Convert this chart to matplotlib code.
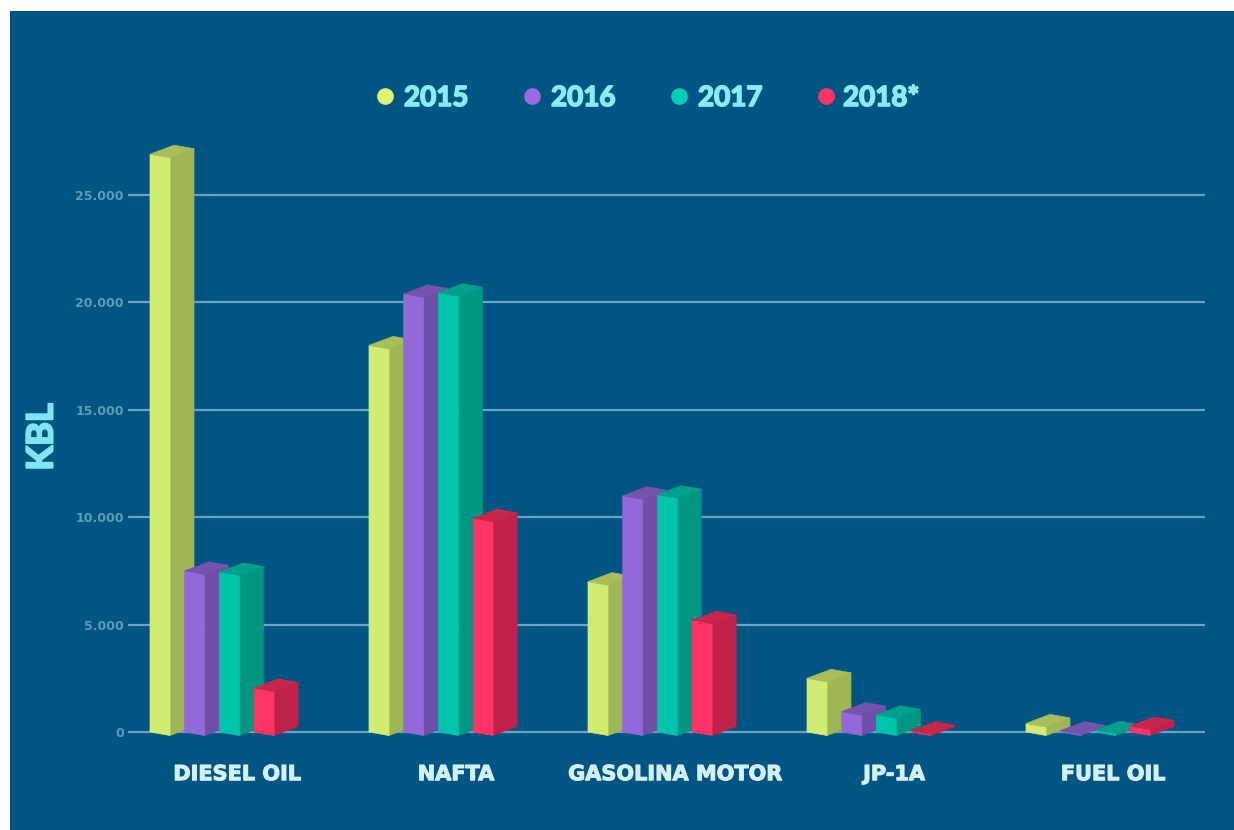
import matplotlib
matplotlib.use("Agg")
import matplotlib.pyplot as plt
from matplotlib.patches import Polygon, Rectangle
from matplotlib.lines import Line2D
import matplotlib.patheffects as pe

categories = ["DIESEL OIL", "NAFTA", "GASOLINA MOTOR", "JP-1A", "FUEL OIL"]
years = ["2015", "2016", "2017", "2018*"]
v2015 = [26900, 18000, 7000, 2500, 400]
v2016 = [7500, 20400, 11000, 950, 60]
v2017 = [7450, 20450, 11050, 800, 80]
v2018 = [2050, 9950, 5200, 60, 280]
series = [v2015, v2016, v2017, v2018]
yticks = [0, 5000, 10000, 15000, 20000, 25000]
ytick_labels = ["0", "5.000", "10.000", "15.000", "20.000", "25.000"]

front_colors = ["#D0EC72", "#9368D8", "#00C5AA", "#FF3366"]
side_colors = ["#A0B554", "#6F4FA8", "#009682", "#BF2248"]
top_colors = ["#A9BD59", "#7653AE", "#00A08A", "#C9264E"]
legend_colors = ["#DDF56E", "#9B6CE0", "#00CDB2", "#FF3366"]

plt.rcParams['font.family'] = ['Lato', 'DejaVu Sans']

W, H = 1234, 830
fig = plt.figure(figsize=(W / 100, H / 100), dpi=100, facecolor="white")
bg = Rectangle((10 / W, 0), 1 - 10 / W, (H - 11) / H, transform=fig.transFigure,
               facecolor="#005583", edgecolor="none", zorder=-5)
fig.patches.append(bg)

ax_left, ax_right = 128, 1205
ax_top, ax_bottom = 130, 760
ax = fig.add_axes([ax_left / W, (H - ax_bottom) / H, (ax_right - ax_left) / W,
                   (ax_bottom - ax_top) / H])
ax.set_zorder(2)
ax.set_facecolor("none")
ppv = 537 / 25000.0  # pixels per value unit
y0_pix = 732
ylo = -(ax_bottom - y0_pix) / ppv
yhi = ylo + (ax_bottom - ax_top) / ppv
ax.set_ylim(ylo, yhi)
grp = 219.0
x0_pix = 237
ax.set_xlim((ax_left - x0_pix) / grp, (ax_right - x0_pix) / grp)

fw = 20 / grp
step = 34.7 / grp
off0 = (150 - 237) / grp
dx = 24 / grp
dy = 9 / ppv
sk = 3.5 / ppv

z = 3
for i in range(len(categories)):
    for j, vals in enumerate(series):
        v = vals[i]
        xl = i + off0 + j * step
        xr = xl + fw
        front = [(xl, 0), (xr, -sk), (xr, v - sk), (xl, v)]
        side = [(xr, -sk), (xr + dx, -sk + dy), (xr + dx, v - sk + dy), (xr, v - sk)]
        top = [(xl, v), (xr, v - sk), (xr + dx, v - sk + dy), (xl + dx, v + dy)]
        ax.add_patch(Polygon(side, closed=True, facecolor=side_colors[j],
                             edgecolor=side_colors[j], lw=0.5, zorder=z))
        ax.add_patch(Polygon(front, closed=True, facecolor=front_colors[j],
                             edgecolor=front_colors[j], lw=0.5, zorder=z + 0.1))
        ax.add_patch(Polygon(top, closed=True, facecolor=top_colors[j],
                             edgecolor=top_colors[j], lw=0.5, zorder=z + 0.2))
        z += 1

ax.set_yticks(yticks)
ax.set_yticklabels(ytick_labels)
ax.grid(axis='y', color='#6AA3C6', lw=1.6, zorder=1)
ax.set_axisbelow(True)
for s in ax.spines.values():
    s.set_visible(False)
ax.tick_params(axis='y', length=0, pad=3, labelsize=9, labelcolor='#5F9CC0')
for t in ax.get_yticklabels():
    t.set_fontweight('bold')
    t.set_family(['DejaVu Sans'])
ax.set_xticks(range(len(categories)))
ax.set_xticklabels(categories)
ax.tick_params(axis='x', length=0, pad=3, labelsize=15, labelcolor='#D3F1FA')
for t in ax.get_xticklabels():
    t.set_fontweight('bold')
    t.set_family(['DejaVu Sans'])
    t.set_path_effects([pe.withStroke(linewidth=0.8, foreground='#D3F1FA')])

# y label
fig.text(42 / W, (H - 437) / H, "KBL", rotation=90, ha='center', va='center',
         fontsize=26, fontweight='bold', color='#7FE5EF',
         path_effects=[pe.withStroke(linewidth=1.5, foreground='#7FE5EF')])

# legend
dot_x = [385, 532, 679, 826]
txt_x = [404, 551, 698, 843]
for k, yr in enumerate(years):
    fig.add_artist(Line2D([dot_x[k] / W], [(H - 96) / H], marker='o', markersize=11,
                          color=legend_colors[k], linestyle='none',
                          transform=fig.transFigure))
    fig.text(txt_x[k] / W, (H - 106) / H, yr, ha='left', va='baseline',
             fontsize=20, fontweight='bold', color='#88EEF3',
             path_effects=[pe.withStroke(linewidth=1.2, foreground='#88EEF3')])

fig.savefig("out.png", dpi=100, facecolor=fig.get_facecolor())
